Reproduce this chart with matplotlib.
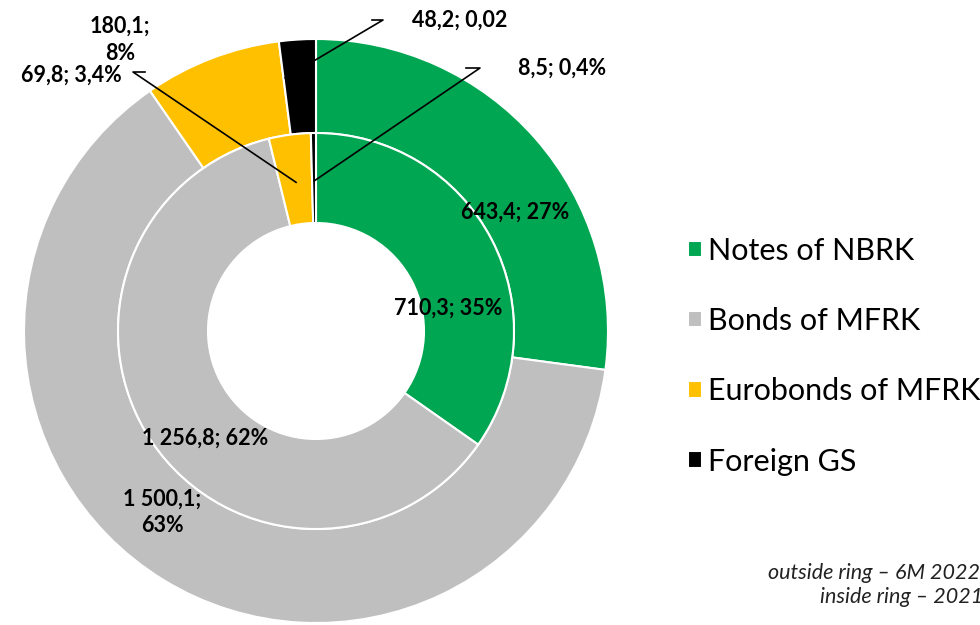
import numpy as np
import matplotlib.pyplot as plt

plt.rcParams['font.family'] = ['Lato', 'DejaVu Sans']

categories = ["Notes of NBRK", "Bonds of MFRK", "Eurobonds of MFRK", "Foreign GS"]
colors = ["#00A651", "#BFBFBF", "#FFC000", "#000000"]

# outside ring - 6M 2022, inside ring - 2021
outer_vals = [643.4, 1500.1, 180.1, 48.2]
inner_vals = [710.3, 1256.8, 69.8, 8.5]
outer_labels = ["643,4; 27%", "1 500,1;\n63%", "180,1;\n8%", "48,2; 0,02"]
inner_labels = ["710,3; 35%", "1 256,8; 62%", "69,8; 3,4%", "8,5; 0,4%"]

W, H = 980, 625
fig = plt.figure(figsize=(W / 100, H / 100), dpi=100)
ax = fig.add_axes([0, 0, 1, 1])
ax.set_xlim(0, W)
ax.set_ylim(0, H)
ax.set_aspect('equal')
ax.axis('off')

cx, cy = 316, H - 331
R_out, R_mid, R_in = 292, 198, 108

wedges, _ = ax.pie(outer_vals, radius=R_out, center=(cx, cy), startangle=90,
                   counterclock=False, colors=colors,
                   wedgeprops=dict(width=R_out - R_mid, edgecolor='white', linewidth=1.5))
ax.pie(inner_vals, radius=R_mid, center=(cx, cy), startangle=90,
       counterclock=False, colors=colors,
       wedgeprops=dict(width=R_mid - R_in, edgecolor='white', linewidth=1.5))
ax.set_xlim(0, W)
ax.set_ylim(0, H)


def point_on(vals, idx, r, frac=0.5):
    tot = float(np.sum(vals))
    start = np.sum(vals[:idx]) / tot * 360
    ang = 90 - (start + vals[idx] / tot * 360 * frac)
    a = np.deg2rad(ang)
    return cx + r * np.cos(a), cy + r * np.sin(a)


lbl = dict(fontsize=15.5, fontweight='bold', color='black')

# labels placed inside the slices
ax.text(515, H - 212, outer_labels[0], ha='center', va='center', **lbl)
ax.text(162, H - 512, outer_labels[1], ha='center', va='center', linespacing=1.3, **lbl)
ax.text(448, H - 308, inner_labels[0], ha='center', va='center', **lbl)
ax.text(205, H - 438, inner_labels[1], ha='center', va='center', **lbl)
ax.text(120, H - 40, outer_labels[2], ha='center', va='center', linespacing=1.4, **lbl)

# leader lines for the small slices
leaders = [
    (point_on(outer_vals, 3, 255, 0.05), (383, H - 20), (372, H - 20), outer_labels[3], (412, H - 20), 'left'),
    (point_on(inner_vals, 3, 150), (480, H - 68), (466, H - 68), inner_labels[3], (518, H - 68), 'left'),
    (point_on(inner_vals, 2, 150), (133, H - 72), (145, H - 72), inner_labels[2], (122, H - 75), 'right'),
]
for anchor, elbow, end, txt, tpos, ha in leaders:
    ax.plot([anchor[0], elbow[0], end[0]], [anchor[1], elbow[1], end[1]],
            color='black', linewidth=1.2)
    ax.text(tpos[0], tpos[1], txt, ha=ha, va='center', **lbl)

ax.legend(wedges, categories, loc='center left', bbox_to_anchor=(0.702, 0.430),
          frameon=False, fontsize=22, labelspacing=1.38, handlelength=0.45,
          handleheight=0.45, handletextpad=0.2, borderaxespad=0, borderpad=0)

ax.text(768, H - 573, "outside ring – 6M 2022", ha='left', va='center',
        fontsize=15.5, style='italic', color='#222222')
ax.text(820, H - 597, "inside ring – 2021", ha='left', va='center',
        fontsize=15.5, style='italic', color='#222222')

fig.savefig("out.png", dpi=100)
